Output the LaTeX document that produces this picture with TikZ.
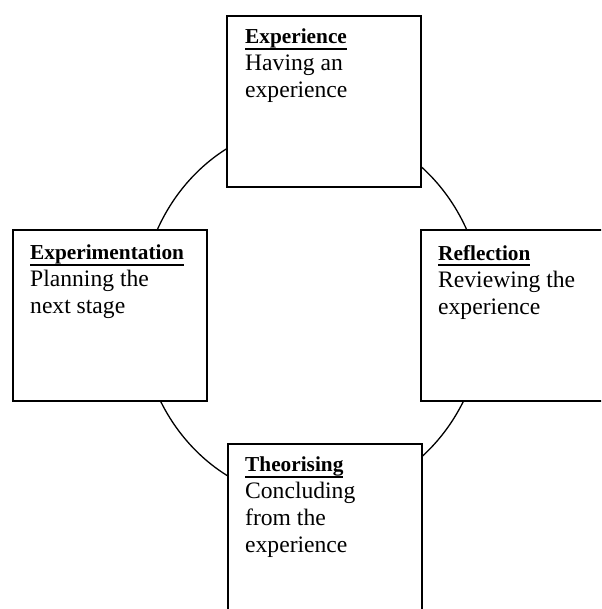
\documentclass[tikz,border=0pt]{standalone}
\usepackage{fontspec}
\setmainfont{Liberation Serif}

\tikzset{
    stagebox/.style={draw, fill=white, line width=1.7pt, anchor=north west,
        inner sep=0pt, minimum width=194pt, minimum height=171pt},
    stagetext/.style={anchor=north west, inner sep=0pt, align=left,
        font=\fontsize{23.6}{27}\selectfont},
    cycleline/.style={line width=1.3pt}
}
% bold heading with a heavier underline
\newcommand{\stagehead}[1]{{\fontsize{21.3}{27}\selectfont\bfseries
    \setbox0\hbox{#1}\rlap{\rule[-5.6pt]{\wd0}{1.6pt}}\box0}}

\begin{document}
\begin{tikzpicture}[x=1pt, y=1pt]
    \clip (0,0) rectangle (601,609);
    \useasboundingbox (0,0) rectangle (601,609);

    % Cycle behind the boxes
    \draw[cycleline] (312,297) ellipse [x radius=172pt, y radius=188pt];

    % Boxes
    \node[stagebox] (exper) at (226,594) {};
    \node[stagebox] (reflect) at (420,380) {};
    \node[stagebox] (theory) at (227,166) {};
    \node[stagebox] (experim) at (12,380) {};

    % Texts
    \node[stagetext] (experT) at ([shift={(19,-14)}]exper.north west)
        {\stagehead{Experience}\\Having an\\experience};
    \node[stagetext] (reflectT) at ([shift={(18,-16)}]reflect.north west)
        {\stagehead{Reflection}\\Reviewing the\\experience};
    \node[stagetext] (theoryT) at ([shift={(18,-14)}]theory.north west)
        {\stagehead{Theorising}\\Concluding\\from the\\experience};
    \node[stagetext] (experimT) at ([shift={(18,-16)}]experim.north west)
        {\stagehead{Experimentation}\\Planning the\\next stage};
\end{tikzpicture}
\end{document}
